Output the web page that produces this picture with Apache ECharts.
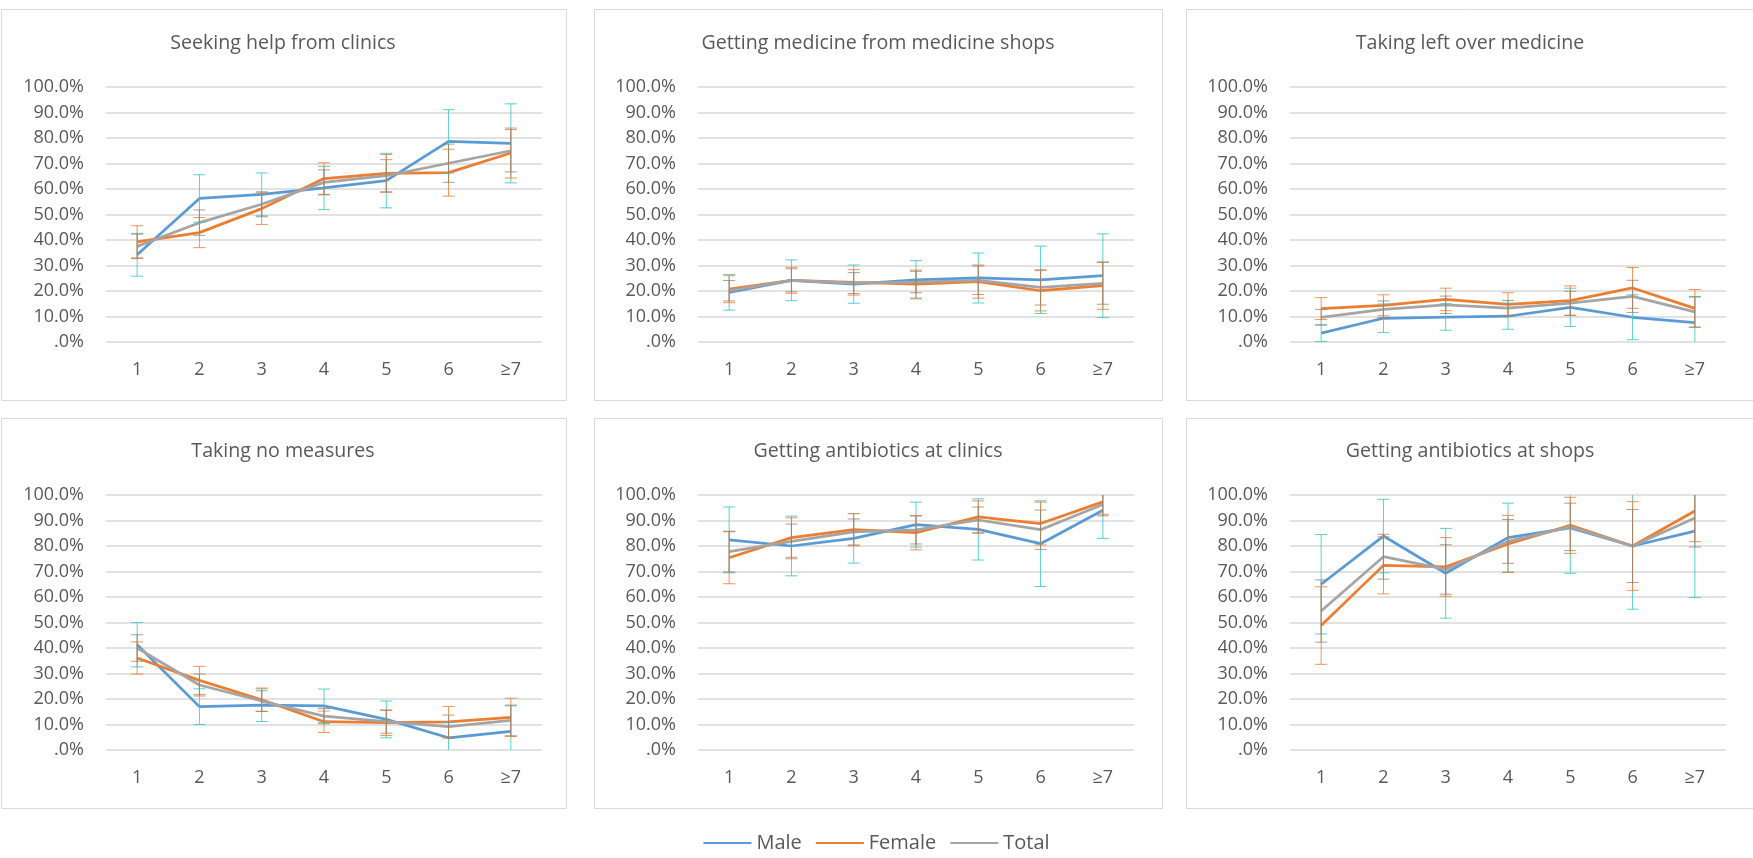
<!DOCTYPE html>
<html>
<head>
<meta charset="utf-8">
<title>Care seeking by number of episodes</title>
<script src="https://cdn.jsdelivr.net/npm/echarts@6/dist/echarts.min.js"></script>
<style>
  html, body { margin: 0; padding: 0; background: #fff; }
  #chart { width: 1753px; height: 858px; }
</style>
</head>
<body>
<div id="chart"></div>
<script>
// x axis categories (number of episodes)
const categories = ['1', '2', '3', '4', '5', '6', '≥7'];
const seriesNames = ['Male', 'Female', 'Total'];

const panelTitles = [
  'Seeking help from clinics',
  'Getting medicine from medicine shops',
  'Taking left over medicine',
  'Taking no measures',
  'Getting antibiotics at clinics',
  'Getting antibiotics at shops'
];

// values in percent
const clinicsMale = [34.2, 56.3, 57.9, 60.4, 63.3, 78.7, 77.9];
const clinicsFemale = [39.3, 42.9, 52.3, 64.1, 66.1, 66.4, 74.1];
const clinicsTotal = [37.5, 46.8, 54.0, 62.6, 65.2, 70.1, 75.0];
const clinicsMaleErr = [8.4, 9.3, 8.4, 8.5, 10.7, 12.4, 15.5];
const clinicsFemaleErr = [6.3, 5.9, 6.2, 6.2, 7.4, 9.2, 9.8];
const clinicsTotalErr = [4.8, 5.0, 4.9, 4.9, 6.3, 7.5, 8.3];

const shopsMale = [19.5, 24.2, 22.7, 24.4, 25.1, 24.4, 26.0];
const shopsFemale = [20.7, 24.2, 23.4, 22.7, 23.7, 20.1, 22.1];
const shopsTotal = [20.1, 24.2, 23.1, 23.5, 24.2, 21.4, 23.0];
const shopsMaleErr = [7.0, 8.0, 7.5, 7.5, 9.8, 13.2, 16.4];
const shopsFemaleErr = [5.3, 5.1, 5.0, 5.5, 6.5, 7.9, 9.3];
const shopsTotalErr = [4.0, 4.5, 4.1, 4.2, 5.6, 6.9, 8.2];

const leftoverMale = [3.5, 9.3, 9.8, 10.1, 13.6, 9.7, 7.6];
const leftoverFemale = [13.1, 14.4, 16.7, 14.8, 16.2, 21.2, 13.2];
const leftoverTotal = [9.7, 12.8, 14.6, 13.3, 15.2, 17.9, 11.8];
const leftoverMaleErr = [3.3, 5.6, 5.2, 5.1, 7.5, 8.8, 10.0];
const leftoverFemaleErr = [4.3, 4.1, 4.4, 4.5, 5.8, 8.0, 7.4];
const leftoverTotalErr = [3.1, 3.3, 3.4, 3.0, 4.7, 6.3, 6.0];

const noneMale = [41.3, 17.0, 17.6, 17.3, 12.0, 4.8, 7.3];
const noneFemale = [36.1, 27.3, 19.7, 11.1, 10.7, 11.0, 12.8];
const noneTotal = [40.0, 25.5, 19.2, 13.3, 11.1, 9.2, 11.6];
const noneMaleErr = [8.7, 7.0, 6.4, 6.6, 7.2, 6.0, 10.0];
const noneFemaleErr = [6.3, 5.5, 4.6, 4.2, 5.0, 6.1, 7.5];
const noneTotalErr = [5.2, 4.3, 4.0, 3.0, 4.5, 4.5, 6.0];

const abClinicsMale = [82.4, 80.0, 83.0, 88.4, 86.5, 80.9, 94.0];
const abClinicsFemale = [75.4, 83.3, 86.4, 85.2, 91.4, 88.8, 97.3];
const abClinicsTotal = [77.8, 81.8, 85.5, 86.3, 90.2, 86.4, 96.3];
const abClinicsMaleErr = [12.9, 11.7, 9.7, 8.8, 12.0, 16.8, 11.0];
const abClinicsFemaleErr = [10.2, 7.7, 6.3, 6.7, 6.3, 8.4, 4.9];
const abClinicsTotalErr = [8.0, 6.8, 5.1, 5.5, 5.1, 7.7, 4.5];

const abShopsMale = [65.0, 83.9, 69.3, 83.3, 87.1, 80.0, 85.8];
const abShopsFemale = [48.8, 72.4, 71.8, 80.8, 88.1, 80.0, 93.7];
const abShopsTotal = [54.5, 75.8, 70.8, 81.8, 87.5, 80.0, 91.0];
const abShopsMaleErr = [19.5, 14.4, 17.6, 13.5, 17.8, 24.8, 26.0];
const abShopsFemaleErr = [15.2, 11.2, 11.5, 11.2, 11.0, 17.4, 12.0];
const abShopsTotalErr = [12.2, 8.8, 9.7, 8.6, 9.3, 14.3, 11.4];

const panels = [
  { values: [clinicsMale, clinicsFemale, clinicsTotal], errors: [clinicsMaleErr, clinicsFemaleErr, clinicsTotalErr] },
  { values: [shopsMale, shopsFemale, shopsTotal], errors: [shopsMaleErr, shopsFemaleErr, shopsTotalErr] },
  { values: [leftoverMale, leftoverFemale, leftoverTotal], errors: [leftoverMaleErr, leftoverFemaleErr, leftoverTotalErr] },
  { values: [noneMale, noneFemale, noneTotal], errors: [noneMaleErr, noneFemaleErr, noneTotalErr] },
  { values: [abClinicsMale, abClinicsFemale, abClinicsTotal], errors: [abClinicsMaleErr, abClinicsFemaleErr, abClinicsTotalErr] },
  { values: [abShopsMale, abShopsFemale, abShopsTotal], errors: [abShopsMaleErr, abShopsFemaleErr, abShopsTotalErr] }
];

const lineColors = ['#5B9BD5', '#ED7D31', '#A5A5A5'];
const errColors = ['rgba(60,200,200,0.85)', 'rgba(240,128,60,0.85)', 'rgba(150,125,100,0.75)'];
const textColor = '#595959';
const font = 'Open Sans';

// layout of the 3x2 panels
const colLeft = [106, 698, 1290];
const rowTop = [87, 495];
const plotW = 436, plotH = 255;
const boxX = [1, 594, 1186];
const boxW = [565, 568, 570];
const boxY = [9, 418];
const boxH = [391, 390];
const titleX = [283, 878, 1470];
const titleY = [43, 451];

const chart = echarts.init(document.getElementById('chart'));

// vertical error bar with caps, clipped to the 0-100% range
const errorBarItem = (color) => (params, api) => {
  const x = api.value(0), v = api.value(1), e = api.value(2);
  const hi = Math.min(100, v + e), lo = Math.max(0, v - e);
  const top = api.coord([x, hi]), bot = api.coord([x, lo]);
  const style = { stroke: color, lineWidth: 1 };
  const half = 6;
  const children = [{ type: 'line', shape: { x1: top[0], y1: top[1], x2: bot[0], y2: bot[1] }, style }];
  if (v + e <= 100) children.push({ type: 'line', shape: { x1: top[0] - half, y1: top[1], x2: top[0] + half, y2: top[1] }, style });
  if (v - e >= 0) children.push({ type: 'line', shape: { x1: bot[0] - half, y1: bot[1], x2: bot[0] + half, y2: bot[1] }, style });
  return { type: 'group', children };
};

const grids = [], xAxes = [], yAxes = [], series = [], graphics = [];

panels.forEach((panel, i) => {
  const col = i % 3, row = Math.floor(i / 3);
  grids.push({ left: colLeft[col], top: rowTop[row], width: plotW, height: plotH });
  xAxes.push({
    type: 'category', gridIndex: i, data: categories, boundaryGap: true,
    axisLine: { show: false }, axisTick: { show: false },
    axisLabel: { fontSize: 18, color: textColor, fontFamily: font, margin: 19 }
  });
  yAxes.push({
    type: 'value', gridIndex: i, min: 0, max: 100, interval: 10,
    axisLine: { show: false }, axisTick: { show: false },
    splitLine: { lineStyle: { color: '#D9D9D9', width: 1.5 } },
    axisLabel: {
      fontSize: 18, color: textColor, fontFamily: font, margin: 22,
      formatter: v => v === 0 ? '.0%' : v.toFixed(1) + '%'
    }
  });

  panel.values.forEach((vals, s) => {
    series.push({
      name: seriesNames[s], type: 'line', xAxisIndex: i, yAxisIndex: i,
      data: vals, showSymbol: false, symbol: 'none', silent: true,
      lineStyle: { color: lineColors[s], width: 2.75 },
      itemStyle: { color: lineColors[s] }, z: 2
    });
  });
  panel.errors.forEach((errs, s) => {
    series.push({
      name: seriesNames[s] + ' error', type: 'custom', xAxisIndex: i, yAxisIndex: i,
      renderItem: errorBarItem(errColors[s]), silent: true, z: 3,
      encode: { x: 0, y: 1 },
      data: errs.map((e, k) => [k, panel.values[s][k], e])
    });
  });

  graphics.push({
    type: 'rect', z: -1, silent: true,
    shape: { x: boxX[col] + 0.5, y: boxY[row] + 0.5, width: boxW[col], height: boxH[row] },
    style: { fill: 'none', stroke: '#D9D9D9', lineWidth: 1 }
  });
  graphics.push({
    type: 'text', silent: true, x: titleX[col], y: titleY[row],
    style: {
      text: panelTitles[i], fill: textColor, font: '19.6px "' + font + '"',
      textAlign: 'center', textVerticalAlign: 'middle'
    }
  });
});

chart.setOption({
  backgroundColor: '#fff',
  animation: false,
  grid: grids,
  xAxis: xAxes,
  yAxis: yAxes,
  legend: {
    data: seriesNames, left: 'center', top: 828,
    icon: 'rect', itemWidth: 48, itemHeight: 2, itemGap: 14,
    textStyle: { fontSize: 20, color: textColor, fontFamily: font }
  },
  graphic: graphics,
  series
});
</script>
</body>
</html>
